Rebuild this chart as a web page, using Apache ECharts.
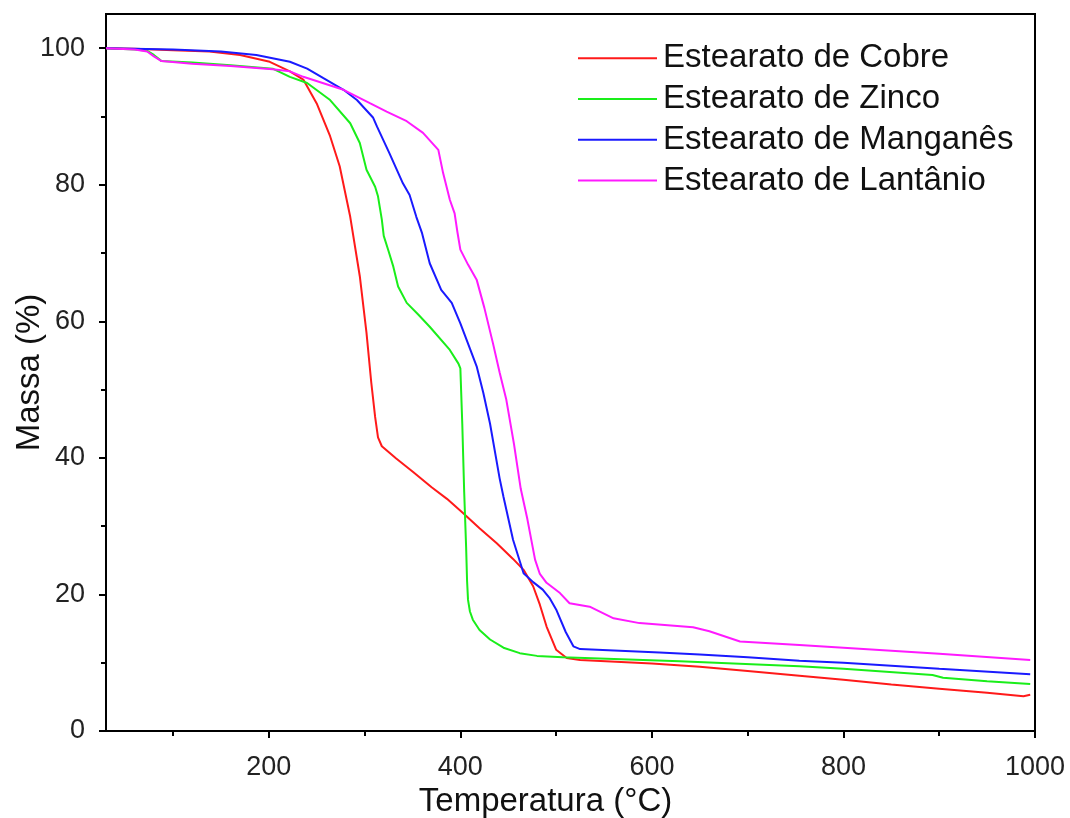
<!DOCTYPE html>
<html>
<head>
<meta charset="utf-8">
<title>TGA - Estearatos</title>
<script src="https://cdn.jsdelivr.net/npm/echarts@6/dist/echarts.min.js"></script>
<style>
  html, body { margin: 0; padding: 0; background: #fff; }
  #chart { width: 1070px; height: 818px; }
</style>
</head>
<body>
<div id="chart"></div>
<script>
// Thermogravimetric curves: [temperature °C, mass %]
const seriesNames = ['Estearato de Cobre', 'Estearato de Zinco', 'Estearato de Manganês', 'Estearato de Lantânio'];
const seriesColors = ['#ff1a1a', '#1aee1a', '#1a1aff', '#ff1aff'];

const cobre = [
  [30,100],[60,99.9],[100,99.7],[138,99.5],[170,99.0],[201,98.0],[222,96.6],[236,95.4],
  [250,91.9],[264,87.1],[274,82.7],[285,75.3],[295,66.6],[302,58.3],[307,51.0],[311,46.0],
  [314,43.0],[318,41.7],[333,39.9],[351,37.9],[370,35.7],[386,34.0],[403,31.9],[420,29.7],
  [438,27.5],[455,25.2],[466,23.6],[476,21.2],[483,18.5],[490,15.3],[500,11.9],[511,10.7],
  [525,10.4],[600,9.9],[650,9.4],[700,8.8],[754,8.1],[800,7.5],[850,6.8],[900,6.2],
  [950,5.6],[988,5.1],[995,5.3]
];

const zinco = [
  [30,100],[60,99.8],[73,99.6],[80,99.0],[88,98.1],[120,97.9],[160,97.5],[204,97.0],
  [222,95.8],[240,94.9],[264,92.4],[285,89.0],[295,86.1],[302,82.2],[311,79.7],[314,78.3],
  [318,74.9],[320,72.5],[325,70.3],[330,68.0],[335,65.1],[344,62.7],[356,61.0],[368,59.2],
  [389,55.8],[398,53.8],[400,53.1],[402,45.0],[404,35.0],[406,27.0],[407,22.0],[408,19.2],
  [410,17.5],[413,16.3],[420,14.8],[431,13.4],[445,12.2],[462,11.4],[480,11.0],[507,10.8],
  [629,10.2],[754,9.5],[800,9.1],[893,8.2],[904,7.8],[950,7.3],[995,6.9]
];

const manganes = [
  [30,100],[100,99.8],[150,99.5],[187,99.0],[222,98.0],[240,97.0],[257,95.6],[278,93.9],
  [292,92.4],[309,89.8],[313,88.5],[326,84.6],[340,80.2],[347,78.5],[354,75.3],[360,72.9],
  [368,68.5],[380,64.6],[391,62.7],[400,59.7],[410,56.0],[417,53.4],[424,49.5],[431,45.0],
  [441,37.0],[445,34.3],[455,28.0],[466,23.1],[476,21.8],[486,20.7],[493,19.5],[500,17.8],
  [510,14.5],[518,12.4],[525,12.0],[608,11.5],[650,11.2],[700,10.8],[754,10.3],[800,10.0],
  [900,9.1],[995,8.3]
];

const lantanio = [
  [30,100],[60,99.8],[73,99.5],[80,98.8],[88,98.1],[120,97.7],[160,97.4],[204,96.9],
  [222,96.6],[236,95.8],[278,93.9],[306,91.9],[323,90.7],[344,89.3],[361,87.6],[377,85.1],
  [382,81.7],[389,77.8],[394,75.8],[397,73.0],[400,70.5],[408,68.3],[417,66.1],[425,62.0],
  [434,56.8],[441,52.5],[448,48.5],[456,42.0],[463,35.5],[470,31.0],[478,25.1],[483,23.0],
  [490,21.7],[504,20.2],[514,18.7],[535,18.2],[560,16.5],[587,15.8],[643,15.2],[660,14.6],
  [692,13.1],[754,12.6],[800,12.2],[900,11.3],[995,10.4]
];

const xTickLabels = [200, 400, 600, 800, 1000];
const xMinorTicks = [100, 300, 500, 700, 900];
const yTickLabels = [0, 20, 40, 60, 80, 100];
const yMinorTicks = [10, 30, 50, 70, 90];

const seriesData = [cobre, zinco, manganes, lantanio];
const font = 'Liberation Sans, Arial, sans-serif';

const chart = echarts.init(document.getElementById('chart'), null, { renderer: 'canvas' });

const hiddenAxisParts = {
  axisLine: { show: false },
  axisLabel: { show: false },
  splitLine: { show: false }
};

chart.setOption({
  animation: false,
  backgroundColor: '#fff',
  textStyle: { fontFamily: font },
  grid: {
    left: 106, right: 35, top: 14, bottom: 87,
    outerBoundsMode: 'none',
    containLabel: false,
    show: true, borderColor: '#000', borderWidth: 2
  },
  legend: {
    orient: 'vertical',
    left: 573, top: 33,
    icon: 'rect',
    itemWidth: 79, itemHeight: 2,
    itemGap: 0,
    textStyle: { fontFamily: font, fontSize: 33, color: '#111', lineHeight: 40.7, padding: [0, 0, 0, 1] },
    data: seriesNames
  },
  xAxis: [
    {
      type: 'value', min: 30, max: 1000,
      name: 'Temperatura (°C)', nameLocation: 'middle', nameGap: 50,
      nameTextStyle: { fontFamily: font, fontSize: 33, color: '#111', padding: [0, 50, 0, 0] },
      axisLine: { lineStyle: { color: '#000', width: 2 } },
      axisTick: { customValues: xTickLabels, length: 7, lineStyle: { color: '#000', width: 2 } },
      axisLabel: { customValues: xTickLabels, formatter: v => String(v), fontFamily: font, fontSize: 27, color: '#222', margin: 23 },
      splitLine: { show: false }
    },
    Object.assign({
      type: 'value', min: 30, max: 1000, position: 'bottom',
      axisTick: { customValues: xMinorTicks, length: 5, lineStyle: { color: '#000', width: 2 } }
    }, hiddenAxisParts)
  ],
  yAxis: [
    {
      type: 'value', min: 0, max: 105,
      name: 'Massa (%)', nameLocation: 'middle', nameGap: 60,
      nameMoveOverlap: false,
      nameTextStyle: { fontFamily: font, fontSize: 33, color: '#111' },
      axisLine: { lineStyle: { color: '#000', width: 2 } },
      axisTick: { customValues: yTickLabels, length: 7, lineStyle: { color: '#000', width: 2 } },
      axisLabel: { customValues: yTickLabels, formatter: v => String(v), fontFamily: font, fontSize: 27, color: '#222', margin: 21 },
      splitLine: { show: false }
    },
    Object.assign({
      type: 'value', min: 0, max: 105, position: 'left',
      axisTick: { customValues: yMinorTicks, length: 5, lineStyle: { color: '#000', width: 2 } }
    }, hiddenAxisParts)
  ],
  series: seriesNames.map((name, i) => ({
    name: name,
    type: 'line',
    xAxisIndex: 0,
    yAxisIndex: 0,
    data: seriesData[i],
    showSymbol: false,
    smooth: false,
    color: seriesColors[i],
    lineStyle: { width: 2, color: seriesColors[i] }
  }))
});
</script>
</body>
</html>
